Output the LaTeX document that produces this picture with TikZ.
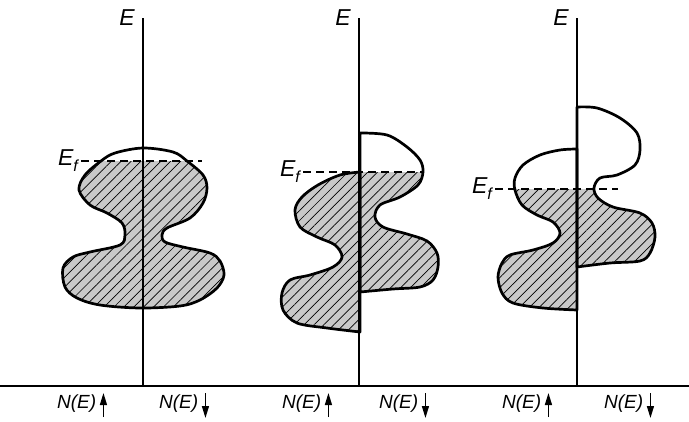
\documentclass[tikz,border=0pt]{standalone}
\usepackage{fontspec}
\setmainfont{Liberation Sans}
\usetikzlibrary{arrows.meta}
\usetikzlibrary{patterns.meta}

% density of states outlines (pixel coordinates, y downwards)
\newcommand{\dosone}{plot[smooth cycle, tension=0.55] coordinates {(143,148) (173,152) (187,161) (203,175) (207,188) (203,203) (190,218) (167,228) (162,235) (165,242) (183,247) (210,253) (220,261) (224,275) (217,288) (200,300) (180,306) (140,308) (100,305) (77,298) (65,287) (63,268) (73,257) (90,252) (120,245) (125,235) (122,223) (107,213) (90,205) (79,190) (85,175) (101,161) (115,153)}}
\newcommand{\dostwoup}{plot[smooth, tension=0.55] coordinates {(360,172) (340,175) (318,185) (302,197) (295,210) (300,227) (317,237) (335,245) (342,257) (333,267) (310,275) (290,280) (282,293) (283,310) (297,323) (327,328) (360,332)} -- cycle}
\newcommand{\dostwodown}{plot[smooth, tension=0.55] coordinates {(360,133) (387,135) (407,147) (420,160) (423,172) (418,185) (400,197) (380,205) (375,217) (383,227) (407,234) (427,241) (437,253) (438,267) (433,280) (420,287) (393,289) (360,292)} -- cycle}
\newcommand{\dosthreeup}{plot[smooth, tension=0.55] coordinates {(577,149) (560,150) (540,155) (523,165) (515,178) (515,190) (522,205) (537,215) (553,222) (560,233) (553,243) (533,250) (510,255) (502,263) (498,277) (502,293) (513,303) (543,308) (577,310)} -- cycle}
\newcommand{\dosthreedown}{plot[smooth, tension=0.55] coordinates {(577,107) (597,108) (620,118) (637,133) (640,150) (635,165) (617,175) (600,178) (594,188) (598,198) (613,207) (640,213) (652,223) (655,237) (650,253) (640,261) (610,263) (577,267)} -- cycle}

\begin{document}
\begin{tikzpicture}[
    x=1pt, y=-1pt,
    axis/.style={line width=2.8pt},
    dos/.style={line width=2.7pt, line join=round},
    filled/.style={fill=gray!42,
      postaction={pattern={Lines[angle=45, distance=7pt, line width=0.7pt]}}},
    fermi/.style={line width=1.8pt, dash pattern=on 8pt off 5pt},
    elbl/.style={font=\fontsize{23}{23}\selectfont\itshape, inner sep=0pt, anchor=base east},
    flbl/.style={font=\fontsize{23}{23}\selectfont\itshape, inner sep=0pt, anchor=east},
    nlbl/.style={font=\fontsize{19}{19}\selectfont\itshape, inner sep=0pt, anchor=base west},
    spin/.style={line width=1.3pt, -{Triangle[length=12pt, width=7pt]}},
  ]
  \useasboundingbox (0,0) rectangle (689,421);

  % Panel 1: paramagnet
  \begin{scope}
    \clip (0,161) rectangle (689,421);
    \fill[filled] \dosone;
  \end{scope}
  \draw[dos] \dosone;

  % Panel 2: exchange split
  \begin{scope}
    \clip (0,172) rectangle (689,421);
    \fill[filled] \dostwoup;
    \fill[filled] \dostwodown;
  \end{scope}
  \draw[dos] \dostwoup;
  \draw[dos] \dostwodown;

  % Panel 3: strong ferromagnet
  \begin{scope}
    \clip (0,189) rectangle (689,421);
    \fill[filled] \dosthreeup;
    \fill[filled] \dosthreedown;
  \end{scope}
  \draw[dos] \dosthreeup;
  \draw[dos] \dosthreedown;

  % Axes
  \coordinate (left) at (0,386);
  \coordinate (right) at (689,386);
  \draw[axis] (left) -- (right);
  \foreach \i/\x in {1/143, 2/359, 3/577} {
    \coordinate (o\i) at (\x,386);
    \coordinate (t\i) at (\x,18);
    \draw[axis] (o\i) -- (t\i);
    \node[elbl] (e\i) at ([xshift=-8pt, yshift=-7pt]t\i) {E};
  }

  % Fermi levels
  \coordinate (f1a) at (81,161);  \coordinate (f1b) at (202,161);
  \coordinate (f2a) at (303,172); \coordinate (f2b) at (423,172);
  \coordinate (f3a) at (495,189); \coordinate (f3b) at (618,189);
  \foreach \i in {1,2,3} {
    \draw[fermi] (f\i a) -- (f\i b);
    \node[flbl] (ef\i) at ([xshift=-3pt]f\i a)
      {E\raisebox{-6pt}{\fontsize{16}{16}\selectfont f}};
  }

  % Spin labels
  \foreach \i/\xa/\xb in {1/57/159, 2/282/379, 3/502/604} {
    \node[nlbl] (nup\i) at (\xa,408) {N(E)};
    \node[nlbl] (ndn\i) at (\xb,408) {N(E)};
    \draw[spin] ([xshift=7pt]nup\i.base east) ++(0,9) -- ++(0,-24);
    \draw[spin] ([xshift=7pt]ndn\i.base east) ++(0,-15) -- ++(0,25);
  }
\end{tikzpicture}
\end{document}
